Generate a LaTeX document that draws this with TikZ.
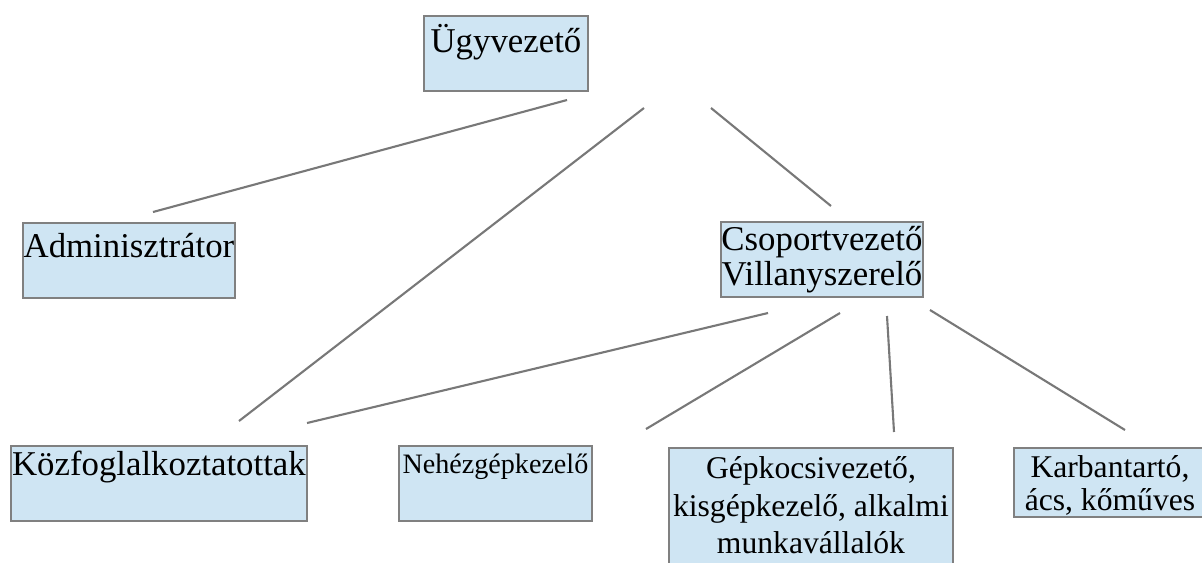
\documentclass[tikz,border=0pt]{standalone}
\usepackage{fontspec}
\setmainfont{Liberation Serif}
\newfontfamily\orgfont{Liberation Serif}
\definecolor{boxfill}{RGB}{207,229,243}
\definecolor{boxline}{RGB}{128,128,128}
\definecolor{linkline}{RGB}{120,120,120}
\newcommand{\boxtext}[4]{\parbox[t][#2][t]{#1}{\centering\rule{0pt}{#3}#4}}
\begin{document}
\begin{tikzpicture}[x=0.02cm,y=-0.02cm,
    orgbox/.style={draw=boxline,fill=boxfill,line width=1.1pt,inner sep=0pt,anchor=north west,font=\orgfont\fontsize{19.8pt}{19.8pt}\selectfont},
    smalltext/.style={font=\orgfont\fontsize{18pt}{21.2pt}\selectfont},
    link/.style={draw=linkline,line width=1.2pt}]
        \useasboundingbox (0,0) rectangle (1202,562);
        \node[orgbox] (ugy) at (423,15) {\boxtext{3.28cm}{1.5cm}{0.74cm}{Ügyvezető}};
        \node[orgbox] (admin) at (22,222) {\boxtext{4.24cm}{1.5cm}{0.70cm}{Adminisztrátor}};
        \node[orgbox] (csop) at (720,221) {\boxtext{4.04cm}{1.5cm}{0.58cm}{Csoportvezető\\Villanyszerelő}};
        \node[orgbox] (kozf) at (10,445) {\boxtext{5.92cm}{1.5cm}{0.60cm}{Közfoglalkoztatottak}};
        \node[orgbox,font=\orgfont\fontsize{16pt}{18pt}\selectfont] (nehez) at (398,445) {\boxtext{3.86cm}{1.5cm}{0.56cm}{Nehézgépkezelő}};
        \node[orgbox,smalltext] (gepk) at (668,447) {\boxtext{5.68cm}{2.6cm}{0.62cm}{Gépkocsivezető,\\kisgépkezelő, alkalmi\\munkavállalók}};
        \node[orgbox,font=\orgfont\fontsize{18pt}{18.5pt}\selectfont] (karb) at (1013,447) {\boxtext{3.84cm}{1.38cm}{0.60cm}{Karbantartó,\\ács, kőműves}};
        % free ends of the connectors
        \coordinate (ugy-l) at (567,100);
        \coordinate (ugy-m) at (644,108);
        \coordinate (ugy-r) at (711,108);
        \coordinate (admin-t) at (153,212);
        \coordinate (kozf-t) at (239,421);
        \coordinate (csop-t) at (831,206);
        \coordinate (csop-a) at (768,313);
        \coordinate (csop-b) at (840,313);
        \coordinate (csop-c) at (887,316);
        \coordinate (csop-d) at (930,310);
        \coordinate (kozf-u) at (307,423);
        \coordinate (nehez-t) at (646,429);
        \coordinate (gepk-t) at (894,432);
        \coordinate (karb-t) at (1125,430);
        \draw[link] (ugy-l) -- (admin-t);
        \draw[link] (ugy-m) -- (kozf-t);
        \draw[link] (ugy-r) -- (csop-t);
        \draw[link] (csop-a) -- (kozf-u);
        \draw[link] (csop-b) -- (nehez-t);
        \draw[link] (csop-c) -- (gepk-t);
        \draw[link] (csop-d) -- (karb-t);
\end{tikzpicture}
\end{document}
